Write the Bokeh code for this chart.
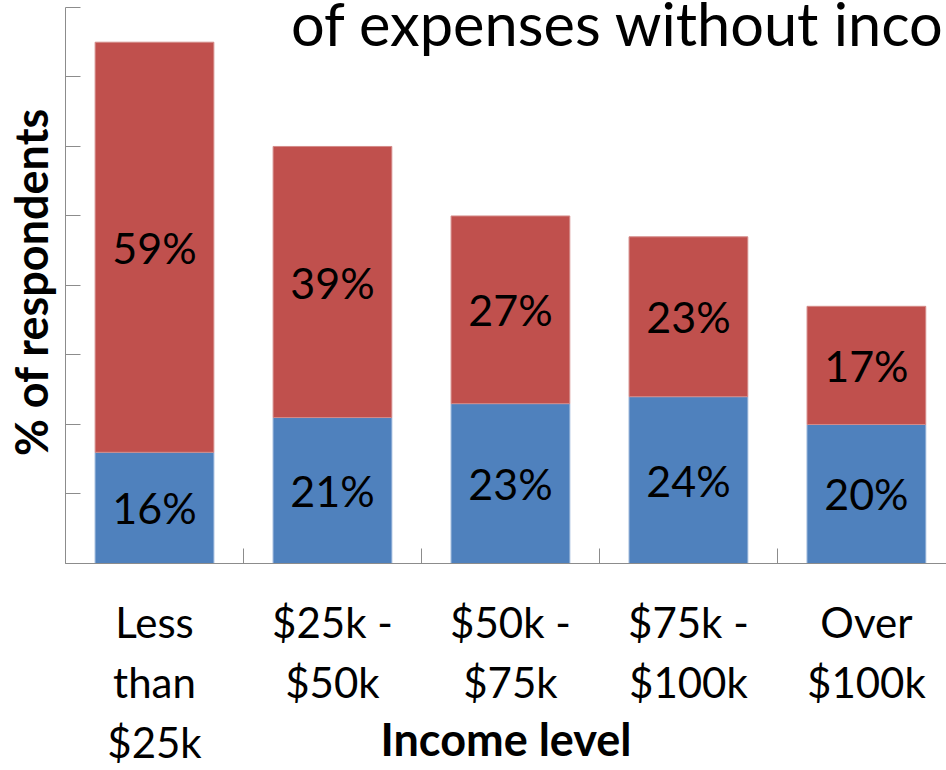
from bokeh.plotting import figure
from bokeh.models import Range1d, FixedTicker, Label, ColumnDataSource, LabelSet
from bokeh.core.properties import value
from bokeh.embed import file_html
from bokeh.resources import INLINE

# ---- data ----
categories = ["Less\nthan\n$25k", "$25k -\n$50k", "$50k -\n$75k", "$75k -\n$100k", "Over\n$100k"]
blue_values = [16, 21, 23, 24, 20]
red_values = [59, 39, 27, 23, 17]
y_ticks = [0, 10, 20, 30, 40, 50, 60, 70, 80]
title_text = "of expenses without income"
y_label = "% of respondents"
x_label = "Income level"

FONT = "Lato"
BLUE = "#4F81BD"
RED = "#C0504D"
AXIS = "#8C8C8C"

n = len(categories)
xs = [i + 0.5 for i in range(n)]
red_tops = [b + r for b, r in zip(blue_values, red_values)]

src = ColumnDataSource(dict(
    x=xs,
    blue=blue_values,
    red_top=red_tops,
    blue_mid=[b / 2 for b in blue_values],
    red_mid=[b + r / 2 for b, r in zip(blue_values, red_values)],
    blue_txt=[f"{b}%" for b in blue_values],
    red_txt=[f"{r}%" for r in red_values],
))

p = figure(width=946, height=770, output_backend="svg", toolbar_location=None,
           x_range=Range1d(0, 4.95), y_range=Range1d(0, 81.0),
           min_border_left=63, min_border_right=0, min_border_top=0, min_border_bottom=207)
p.outline_line_color = None
p.xgrid.grid_line_color = None
p.ygrid.grid_line_color = None
p.background_fill_color = "white"
p.border_fill_color = "white"

p.vbar(x="x", width=0.667, bottom=0, top="blue", source=src,
       fill_color=BLUE, line_color="#8FAED6", line_width=1)
p.vbar(x="x", width=0.667, bottom="blue", top="red_top", source=src,
       fill_color=RED, line_color="#D48B89", line_width=1)

for col_y, col_t in (("blue_mid", "blue_txt"), ("red_mid", "red_txt")):
    p.add_layout(LabelSet(x="x", y=col_y, text=col_t, source=src,
                          text_align="center", text_baseline="middle",
                          text_font=value(FONT), text_font_size="43px",
                          text_color="black"))

# y axis
yax = p.yaxis[0]
yax.ticker = FixedTicker(ticks=y_ticks)
yax.bounds = (y_ticks[0], y_ticks[-1])
yax.major_label_overrides = {t: "" for t in y_ticks}
yax.major_label_standoff = 0
yax.major_tick_in = 15
yax.major_tick_out = 0
yax.minor_tick_line_color = None
yax.axis_line_color = AXIS
yax.major_tick_line_color = AXIS
yax.axis_label = y_label
yax.axis_label_text_font = FONT
yax.axis_label_text_font_size = "45px"
yax.axis_label_text_font_style = "bold"
yax.axis_label_text_color = "black"
yax.axis_label_standoff = 8

# x axis
xax = p.xaxis[0]
xax.ticker = FixedTicker(ticks=xs, minor_ticks=list(range(n)))
xax.major_label_overrides = {x: c for x, c in zip(xs, categories)}
xax.major_tick_line_color = None
xax.minor_tick_in = 15
xax.minor_tick_out = 0
xax.minor_tick_line_color = AXIS
xax.axis_line_color = AXIS
xax.major_label_text_font = FONT
xax.major_label_text_font_size = "42px"
xax.major_label_text_color = "black"
xax.major_label_standoff = 27
xax.axis_label = x_label
xax.axis_label_text_font = FONT
xax.axis_label_text_font_size = "45px"
xax.axis_label_text_font_style = "bold"
xax.axis_label_text_color = "black"
xax.axis_label_standoff = -58

p.add_layout(Label(x=1.267, y=77.8, text=title_text, text_font=FONT,
                   text_font_size="59.5px", text_baseline="alphabetic",
                   text_align="left", text_color="black"))

open("out.html", "w").write(file_html(p, INLINE))
